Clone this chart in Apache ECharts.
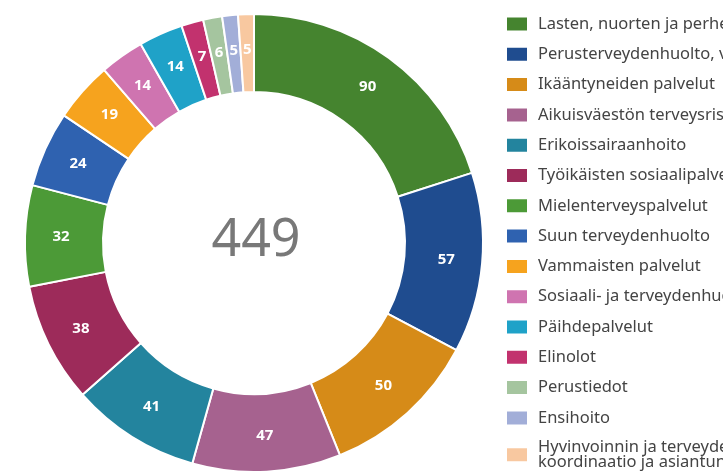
<!DOCTYPE html>
<html>
<head>
<meta charset="utf-8">
<script src="https://cdn.jsdelivr.net/npm/echarts@6/dist/echarts.min.js"></script>
<style>html,body{margin:0;padding:0;background:#fff;}#c{width:723px;height:476px;}</style>
</head>
<body>
<div id="c"></div>
<script>
const categories = [
  "Lasten, nuorten ja perheiden palvelut",
  "Perusterveydenhuolto, vastaanottopalvelut",
  "Ikääntyneiden palvelut",
  "Aikuisväestön terveysriskit",
  "Erikoissairaanhoito",
  "Työikäisten sosiaalipalvelut",
  "Mielenterveyspalvelut",
  "Suun terveydenhuolto",
  "Vammaisten palvelut",
  "Sosiaali- ja terveydenhuollon henkilöstö",
  "Päihdepalvelut",
  "Elinolot",
  "Perustiedot",
  "Ensihoito",
  "Hyvinvoinnin ja terveyden edistämisen\nkoordinaatio ja asiantuntijatuki"
];
const values = [90, 57, 50, 47, 41, 38, 32, 24, 19, 14, 14, 7, 6, 5, 5];
const colors = ["#45842f", "#1f4c8f", "#d68b18", "#a6628f", "#23849e", "#9d2b5a", "#4c9a37", "#2f62b0", "#f6a31e", "#cf74b0", "#1fa2c8", "#c2326e", "#a5c59f", "#a2aed8", "#f8c8a0"];
const total = values.reduce((a, b) => a + b, 0);

const chart = echarts.init(document.getElementById('c'));
chart.setOption({
  animation: false,
  color: colors,
  graphic: [{
    type: 'text',
    x: 256, y: 241,
    style: {
      text: String(total),
      x: 0, y: 0,
      fill: '#787878',
      font: 'normal 52px "Noto Sans"',
      align: 'center', verticalAlign: 'middle'
    }
  }],
  legend: {
    orient: 'vertical',
    left: 500,
    top: 9.5,
    height: 700,
    padding: 5,
    itemWidth: 22,
    itemHeight: 15,
    itemGap: 11.3,
    icon: 'rect',
    data: categories.map((n, i) => i === categories.length - 1
      ? { name: n, textStyle: { lineHeight: 15 } }
      : n),
    textStyle: {
      fontFamily: 'Noto Sans',
      fontSize: 16.5,
      color: '#444',
      lineHeight: 19,
      padding: [0, 0, 0, 5]
    }
  },
  series: [{
    type: 'pie',
    center: [254, 243],
    radius: [151, 229],
    startAngle: 90,
    clockwise: true,
    avoidLabelOverlap: false,
    itemStyle: { borderColor: '#fff', borderWidth: 2 },
    label: {
      show: true,
      position: 'inside',
      formatter: '{c}',
      color: '#fff',
      fontFamily: 'Noto Sans',
      fontWeight: 'bold',
      fontSize: 15
    },
    labelLine: { show: false },
    data: categories.map((n, i) => ({ name: n, value: values[i] }))
  }]
});
</script>
</body>
</html>
